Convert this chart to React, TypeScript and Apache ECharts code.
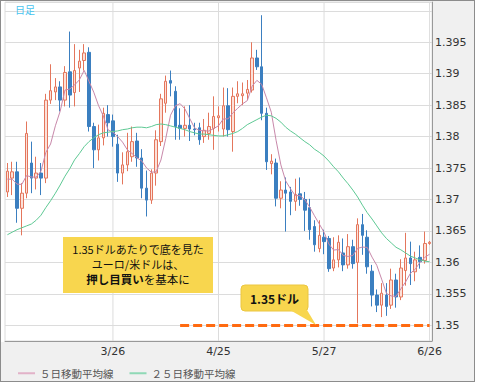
import React, { useEffect, useRef } from 'react';
import * as echarts from 'echarts';

const dates = ['2/24','2/25','2/26','2/27','2/28','3/3','3/4','3/5','3/6','3/7','3/10','3/11','3/12','3/13','3/14','3/17','3/18','3/19','3/20','3/21','3/24','3/25','3/26','3/27','3/28','3/31','4/1','4/2','4/3','4/4','4/7','4/8','4/9','4/10','4/11','4/14','4/15','4/16','4/17','4/18','4/21','4/22','4/23','4/24','4/25','4/28','4/29','4/30','5/1','5/2','5/5','5/6','5/7','5/8','5/9','5/12','5/13','5/14','5/15','5/16','5/19','5/20','5/21','5/22','5/23','5/26','5/27','5/28','5/29','5/30','6/2','6/3','6/4','6/5','6/6','6/9','6/10','6/11','6/12','6/13','6/16','6/17','6/18','6/19','6/20','6/23','6/24','6/25','6/26'];

const labelDates = ['3/26', '4/25', '5/27', '6/26'];

// [open, close, low, high]
const candles = [
  [1.3712, 1.3745, 1.3704, 1.3758],
  [1.3734, 1.3744, 1.3707, 1.3760],
  [1.3744, 1.3686, 1.3663, 1.3760],
  [1.3686, 1.3710, 1.3643, 1.3726],
  [1.3710, 1.3805, 1.3702, 1.3824],
  [1.3758, 1.3734, 1.3710, 1.3792],
  [1.3734, 1.3742, 1.3716, 1.3768],
  [1.3742, 1.3734, 1.3707, 1.3758],
  [1.3734, 1.3858, 1.3726, 1.3868],
  [1.3858, 1.3873, 1.3852, 1.3915],
  [1.3871, 1.3879, 1.3858, 1.3893],
  [1.3879, 1.3858, 1.3840, 1.3888],
  [1.3858, 1.3902, 1.3848, 1.3912],
  [1.3903, 1.3866, 1.3846, 1.3967],
  [1.3870, 1.3905, 1.3848, 1.3947],
  [1.3909, 1.3920, 1.3871, 1.3938],
  [1.3921, 1.3933, 1.3905, 1.3947],
  [1.3934, 1.3816, 1.3808, 1.3942],
  [1.3816, 1.3779, 1.3750, 1.3822],
  [1.3779, 1.3798, 1.3762, 1.3819],
  [1.3798, 1.3837, 1.3786, 1.3846],
  [1.3835, 1.3822, 1.3800, 1.3850],
  [1.3825, 1.3800, 1.3784, 1.3835],
  [1.3788, 1.3742, 1.3728, 1.3803],
  [1.3742, 1.3755, 1.3724, 1.3775],
  [1.3755, 1.3776, 1.3745, 1.3806],
  [1.3768, 1.3792, 1.3760, 1.3816],
  [1.3793, 1.3766, 1.3752, 1.3806],
  [1.3766, 1.3718, 1.3702, 1.3780],
  [1.3718, 1.3699, 1.3673, 1.3746],
  [1.3699, 1.3742, 1.3693, 1.3748],
  [1.3742, 1.3795, 1.3722, 1.3810],
  [1.3792, 1.3860, 1.3785, 1.3868],
  [1.3853, 1.3888, 1.3838, 1.3897],
  [1.3889, 1.3885, 1.3864, 1.3905],
  [1.3872, 1.3816, 1.3795, 1.3880],
  [1.3818, 1.3813, 1.3795, 1.3845],
  [1.3813, 1.3818, 1.3800, 1.3848],
  [1.3818, 1.3812, 1.3793, 1.3850],
  [1.3812, 1.3811, 1.3802, 1.3822],
  [1.3814, 1.3795, 1.3787, 1.3822],
  [1.3800, 1.3810, 1.3790, 1.3828],
  [1.3805, 1.3816, 1.3795, 1.3838],
  [1.3813, 1.3832, 1.3779, 1.3864],
  [1.3830, 1.3833, 1.3808, 1.3848],
  [1.3812, 1.3849, 1.3800, 1.3878],
  [1.3849, 1.3811, 1.3800, 1.3877],
  [1.3808, 1.3864, 1.3776, 1.3878],
  [1.3864, 1.3868, 1.3853, 1.3888],
  [1.3865, 1.3868, 1.3850, 1.3886],
  [1.3869, 1.3875, 1.3858, 1.3890],
  [1.3874, 1.3925, 1.3870, 1.3950],
  [1.3925, 1.3911, 1.3906, 1.3938],
  [1.3911, 1.3837, 1.3826, 1.3993],
  [1.3837, 1.3760, 1.3747, 1.3846],
  [1.3757, 1.3761, 1.3740, 1.3772],
  [1.3758, 1.3702, 1.3689, 1.3765],
  [1.3702, 1.3715, 1.3686, 1.3729],
  [1.3715, 1.3710, 1.3649, 1.3735],
  [1.3712, 1.3697, 1.3675, 1.3720],
  [1.3697, 1.3708, 1.3682, 1.3733],
  [1.3709, 1.3700, 1.3690, 1.3735],
  [1.3700, 1.3683, 1.3650, 1.3712],
  [1.3687, 1.3652, 1.3636, 1.3701],
  [1.3657, 1.3628, 1.3617, 1.3667],
  [1.3622, 1.3643, 1.3616, 1.3667],
  [1.3640, 1.3633, 1.3613, 1.3652],
  [1.3638, 1.3590, 1.3585, 1.3642],
  [1.3591, 1.3604, 1.3586, 1.3640],
  [1.3604, 1.3632, 1.3592, 1.3643],
  [1.3615, 1.3596, 1.3586, 1.3638],
  [1.3596, 1.3625, 1.3590, 1.3645],
  [1.3625, 1.3598, 1.3590, 1.3636],
  [1.3600, 1.3660, 1.3503, 1.3670],
  [1.3660, 1.3643, 1.3612, 1.3677],
  [1.3640, 1.3593, 1.3582, 1.3651],
  [1.3586, 1.3548, 1.3530, 1.3596],
  [1.3548, 1.3532, 1.3521, 1.3557],
  [1.3532, 1.3551, 1.3513, 1.3567],
  [1.3548, 1.3530, 1.3515, 1.3567],
  [1.3532, 1.3572, 1.3526, 1.3590],
  [1.3572, 1.3545, 1.3528, 1.3582],
  [1.3545, 1.3591, 1.3540, 1.3605],
  [1.3587, 1.3607, 1.3563, 1.3647],
  [1.3607, 1.3598, 1.3564, 1.3633],
  [1.3585, 1.3604, 1.3570, 1.3617],
  [1.3608, 1.3601, 1.3590, 1.3627],
  [1.3603, 1.3630, 1.3598, 1.3649],
  [1.3630, 1.3632, 1.3628, 1.3634],
];

// closes of the four sessions before the first visible candle (estimated)
const priorCloses = [1.3745, 1.3725, 1.3712, 1.3735];

const ma25 = [
  1.3644, 1.3648, 1.3652, 1.3655, 1.3658, 1.3661, 1.3667, 1.3675, 1.3687, 1.3698,
  1.3710, 1.3723, 1.3737, 1.3749, 1.3763, 1.3773, 1.3784, 1.3792, 1.3798, 1.3803,
  1.3806, 1.3807, 1.3808, 1.3809, 1.3811, 1.3812, 1.3814, 1.3815, 1.3815, 1.3814,
  1.3816, 1.3819, 1.3820, 1.3819, 1.3817, 1.3815, 1.3813, 1.3811, 1.3808, 1.3806,
  1.3804, 1.3804, 1.3803, 1.3802, 1.3801, 1.3801, 1.3803, 1.3805, 1.3808, 1.3813,
  1.3819, 1.3823, 1.3827, 1.3831, 1.3834, 1.3833, 1.3829, 1.3823, 1.3815, 1.3809,
  1.3804, 1.3798, 1.3792, 1.3787, 1.3780, 1.3775, 1.3769, 1.3761, 1.3752, 1.3744,
  1.3734, 1.3725, 1.3715, 1.3704, 1.3691, 1.3679, 1.3669, 1.3658, 1.3647, 1.3638,
  1.3631, 1.3624, 1.3620, 1.3615, 1.3610, 1.3607, 1.3604, 1.3602, 1.3601,
];

const supportLevel = 1.35;
const supportFrom = '4/15';

const MA5_NAME = '５日移動平均線';
const MA25_NAME = '２５日移動平均線';

const closes = candles.map((c) => c[1]);
const allCloses = priorCloses.concat(closes);
const ma5 = closes.map((_, i) => {
  const k = i + priorCloses.length;
  let s = 0;
  for (let j = k - 4; j <= k; j++) s += allCloses[j];
  return +(s / 5).toFixed(5);
});

const JP = '"Noto Sans CJK JP", sans-serif';
const LAT = '"DejaVu Sans", Verdana, sans-serif';
const YELLOW = '#f8d64e';

export default function App() {
  const ref = useRef<HTMLDivElement>(null);

  useEffect(() => {
    document.body.style.margin = '0';
    const chart = echarts.init(ref.current as HTMLDivElement, undefined, {
      renderer: 'svg',
      width: 477,
      height: 383,
    });
    const option: any = {
      animation: false,
      backgroundColor: 'transparent',
      textStyle: { fontFamily: LAT },
      grid: {
        left: 5,
        right: 45,
        top: 2,
        bottom: 42,
        show: true,
        borderColor: '#dcdcdc',
        borderWidth: 1,
        backgroundColor: 'transparent',
        containLabel: false,
        outerBoundsMode: 'none',
      },
      legend: {
        data: [MA5_NAME, MA25_NAME],
        left: 13,
        top: 363,
        icon: 'rect',
        itemWidth: 17,
        itemHeight: 2,
        itemGap: 16,
        selectedMode: false,
        textStyle: { fontSize: 10.5, color: '#555', fontFamily: JP },
      },
      xAxis: {
        type: 'category',
        data: dates,
        boundaryGap: true,
        axisLine: { lineStyle: { color: '#999' } },
        axisTick: { show: false },
        splitLine: { show: false },
        axisLabel: {
          interval: (_i: number, v: string) => labelDates.includes(v),
          color: '#333',
          fontSize: 11,
          fontFamily: LAT,
          margin: 5,
        },
      },
      yAxis: {
        type: 'value',
        position: 'right',
        min: 1.3475,
        max: 1.4014,
        splitNumber: 10,
        minInterval: 0.005,
        maxInterval: 0.005,
        axisLine: { show: true, lineStyle: { color: '#999' } },
        axisTick: { show: false },
        splitLine: { lineStyle: { color: '#dcdcdc' } },
        axisLabel: {
          color: '#333',
          fontSize: 11,
          fontFamily: LAT,
          margin: 3,
          showMinLabel: false,
          showMaxLabel: false,
          formatter: (v: number) =>
            v > 1.3999 || v < 1.3499 ? '' : String(+v.toFixed(3)),
        },
      },
      series: [
        {
          type: 'custom',
          silent: true,
          z: 1,
          data: labelDates.map((d) => [d, 1.37]),
          encode: { x: 0, y: 1 },
          renderItem: (params: any, api: any) => {
            const x = api.coord([api.value(0), api.value(1)])[0];
            const cs = params.coordSys;
            return {
              type: 'line',
              shape: { x1: x, y1: cs.y, x2: x, y2: cs.y + cs.height },
              style: { stroke: '#dcdcdc', lineWidth: 1 },
            };
          },
        },
        {
          type: 'candlestick',
          name: '日足',
          data: candles,
          barWidth: 3,
          itemStyle: {
            color: '#fce1d9',
            color0: '#3b7fc0',
            borderColor: '#e4765c',
            borderColor0: '#3b7fc0',
            borderWidth: 1,
          },
          markLine: {
            silent: true,
            symbol: 'none',
            label: { show: false },
            lineStyle: { color: '#ff6a10', width: 3, type: [9, 4] },
            data: [
              [
                { coord: [supportFrom, supportLevel] },
                { coord: [dates[dates.length - 1], supportLevel] },
              ],
            ],
          },
        },
        {
          type: 'line',
          name: MA5_NAME,
          data: ma5,
          symbol: 'none',
          showSymbol: false,
          z: 3,
          lineStyle: { width: 1, color: '#c888aa' },
          itemStyle: { color: '#e2b2c8' },
        },
        {
          type: 'line',
          name: MA25_NAME,
          data: ma25,
          symbol: 'none',
          showSymbol: false,
          z: 3,
          lineStyle: { width: 1, color: '#5ec994' },
          itemStyle: { color: '#8fd9b6' },
        },
      ],
      graphic: [
        {
          type: 'text',
          x: 15,
          y: 9,
          z: 10,
          style: {
            text: '日足',
            fill: '#47c3ef',
            fontSize: 10,
            fontFamily: JP,
            verticalAlign: 'middle',
          },
        },
        {
          type: 'rect',
          z: 10,
          shape: { x: 63, y: 237, width: 150, height: 56 },
          style: { fill: YELLOW },
        },
        {
          type: 'text',
          z: 11,
          x: 138,
          y: 264,
          style: {
            text:
              '{a|1.35ドルあたりで底を見た}\n{a|ユーロ/米ドルは、}\n{b|押し目買い}{c|を基本に}',
            align: 'center',
            verticalAlign: 'middle',
            rich: {
              a: { fontSize: 11, fontFamily: JP, fill: '#111', lineHeight: 15 },
              b: { fontSize: 11.5, fontFamily: JP, fontWeight: 'bold', fill: '#111', lineHeight: 15 },
              c: { fontSize: 11.5, fontFamily: JP, fill: '#111', lineHeight: 15 },
            },
          },
        },
        {
          type: 'rect',
          z: 10,
          shape: { x: 241, y: 285, width: 67, height: 26, r: 4 },
          style: { fill: YELLOW, stroke: '#ebc640', lineWidth: 1 },
        },
        {
          type: 'polygon',
          z: 10,
          shape: { points: [[290, 310], [307, 310], [316, 325]] },
          style: { fill: YELLOW },
        },
        {
          type: 'text',
          z: 11,
          x: 274.5,
          y: 298.5,
          style: {
            text: '1.35ドル',
            fill: '#111',
            fontSize: 12,
            fontWeight: 'bold',
            fontFamily: JP,
            align: 'center',
            verticalAlign: 'middle',
          },
        },
      ],
    };
    chart.setOption(option);
    return () => chart.dispose();
  }, []);

  return (
    <div
      style={{
        position: 'fixed',
        left: 0,
        top: 0,
        width: 477,
        height: 383,
        background: '#fff',
        overflow: 'hidden',
      }}
    >
      <div style={{ position: 'absolute', left: 433, top: 1, width: 41, height: 380, background: '#f0f0f0' }} />
      <div style={{ position: 'absolute', left: 1, top: 342, width: 473, height: 39, background: '#f0f0f0' }} />
      <div
        style={{
          position: 'absolute',
          left: 0,
          top: 0,
          width: 475,
          height: 382,
          border: '1px solid #8c8c8c',
          boxSizing: 'border-box',
        }}
      />
      <div ref={ref} style={{ position: 'absolute', left: 0, top: 0, width: 477, height: 383 }} />
    </div>
  );
}
